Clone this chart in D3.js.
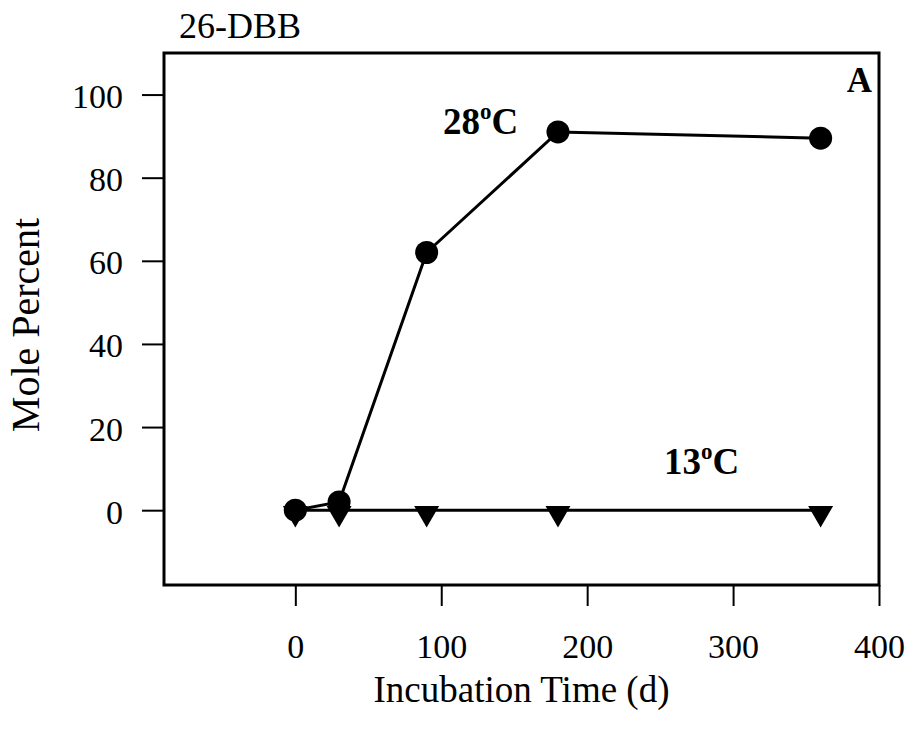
<!DOCTYPE html>
<html><head><meta charset="utf-8">
<script src="https://cdn.jsdelivr.net/npm/d3@7"></script>
<style>body{margin:0;background:#fff}svg{display:block}text{font-family:"Liberation Serif","Times New Roman",serif;fill:#000}</style>
</head><body><svg id="c" width="914" height="732"></svg>
<script>
const days = [0, 30, 90, 180, 360];
const temp28 = [0, 2, 62, 91, 89.5];
const temp13 = [0, 0, 0, 0, 0];
const xTicks = [0, 100, 200, 300, 400];
const yTicks = [0, 20, 40, 60, 80, 100];
const panelTitle = "26-DBB";
const panelLetter = "A";
const xTitle = "Incubation Time (d)";
const yTitle = "Mole Percent";

const svg = d3.select("#c");
const L = 164, R = 879, T = 53, B = 585;
const x = d3.scaleLinear().domain([-90, 400]).range([L, R]);
const y = d3.scaleLinear().domain([-18, 110]).range([B, T]);

// axes
const xa = svg.append("g").attr("transform", `translate(0,${B})`)
  .call(d3.axisBottom(x).tickValues(xTicks).tickSize(21).tickPadding(0).tickFormat(d3.format("d")));
const ya = svg.append("g").attr("transform", `translate(${L},0)`)
  .call(d3.axisLeft(y).tickValues(yTicks).tickSize(22).tickPadding(19).tickFormat(d3.format("d")));
[xa, ya].forEach(a => {
  a.select(".domain").remove();
  a.selectAll(".tick line").attr("stroke", "#000").attr("stroke-width", 2);
  a.selectAll(".tick text").style("font-size", "34px").style("font-family", "Liberation Serif, serif").attr("fill", "#000");
});
ya.selectAll(".tick text").attr("dy", 13);
xa.selectAll(".tick text").attr("y", 73).attr("dy", 0);

// frame
svg.append("rect").attr("x", L).attr("y", T).attr("width", R - L).attr("height", B - T)
  .attr("fill", "none").attr("stroke", "#000").attr("stroke-width", 3);

const line = d3.line().x(d => x(d[0])).y(d => y(d[1]));
const s28 = days.map((d, i) => [d, temp28[i]]);
const s13 = days.map((d, i) => [d, temp13[i]]);

svg.append("path").datum(s13).attr("d", line).attr("fill", "none").attr("stroke", "#000").attr("stroke-width", 3);
svg.append("path").datum(s28).attr("d", line).attr("fill", "none").attr("stroke", "#000").attr("stroke-width", 3);

// triangles (down)
const tri = d3.symbol().type(d3.symbolTriangle).size(270);
svg.selectAll(".tri").data(s13).join("path").attr("class", "tri")
  .attr("d", tri).attr("transform", d => `translate(${x(d[0])},${y(d[1]) + 3}) rotate(180)`).attr("fill", "#000");
svg.selectAll(".dot").data(s28).join("circle").attr("class", "dot")
  .attr("cx", d => x(d[0])).attr("cy", d => y(d[1])).attr("r", 11.5).attr("fill", "#000");

// labels
function tempLabel(tx, ty, num) {
  const t = svg.append("text").attr("x", tx).attr("y", ty).style("font-size", "37px").style("font-weight", "bold");
  t.append("tspan").text(num);
  t.append("tspan").text("o").attr("dy", -15).style("font-size", "23px");
  t.append("tspan").text("C").attr("dy", 15);
}
tempLabel(443, 134, "28");
tempLabel(664, 474, "13");

svg.append("text").attr("x", 872).attr("y", 92).attr("text-anchor", "end")
  .style("font-size", "35px").style("font-weight", "bold").text(panelLetter);
svg.append("text").attr("x", 179).attr("y", 38).style("font-size", "36px").text(panelTitle);
svg.append("text").attr("x", (L + R) / 2).attr("y", 702).attr("text-anchor", "middle")
  .style("font-size", "37px").text(xTitle);
svg.append("text").attr("transform", `translate(39,${(T + B) / 2 + 6}) rotate(-90)`).attr("text-anchor", "middle")
  .style("font-size", "40px").text(yTitle);
</script></body></html>
